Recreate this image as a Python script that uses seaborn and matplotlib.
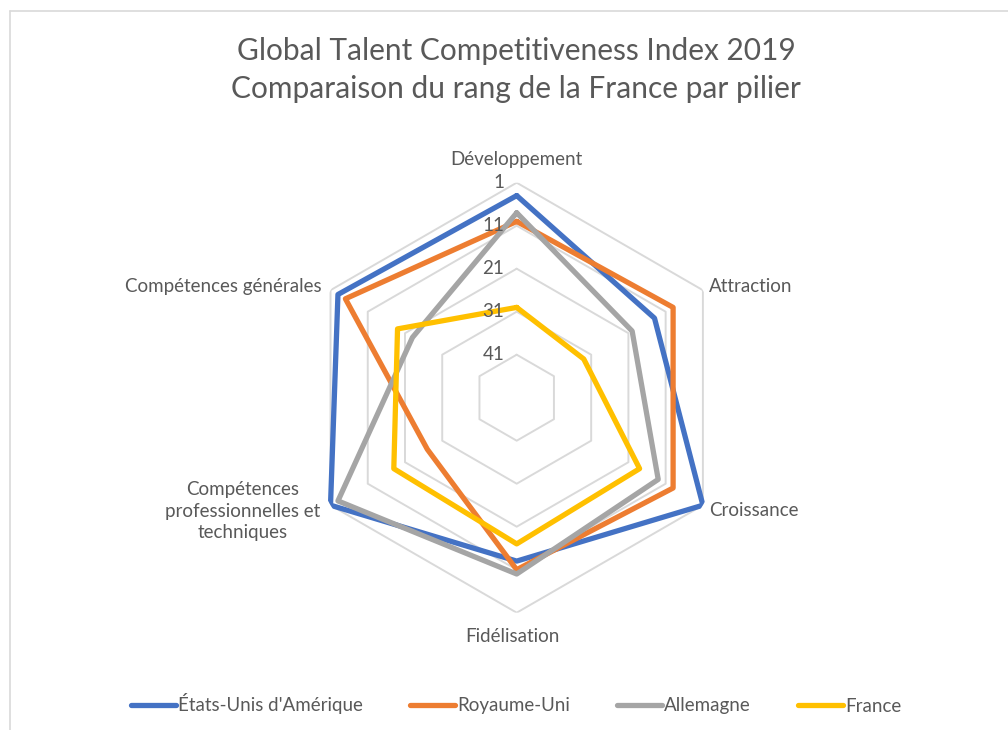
import numpy as np
import pandas as pd
import matplotlib
matplotlib.use("Agg")
import matplotlib.pyplot as plt
import matplotlib.transforms as mtransforms
from matplotlib.lines import Line2D
import seaborn as sns

# ---- data ----
categories = ["Développement", "Attraction", "Croissance", "Fidélisation",
              "Compétences\nprofessionnelles et\ntechniques", "Compétences générales"]
countries = ["États-Unis d'Amérique", "Royaume-Uni", "Allemagne", "France"]
usa = [4, 14, 1, 13, 1, 3]
uk = [10, 9, 9, 11, 27, 5]
germany = [8, 20, 13, 10, 3, 23]
france = [30, 33, 18, 17, 18, 19]
rank_ticks = [1, 11, 21, 31, 41]
rank_min, rank_max = 1, 51

colors = ["#4472C4", "#ED7D31", "#A5A5A5", "#FFC000"]
title = "Global Talent Competitiveness Index 2019\nComparaison du rang de la France par pilier"

sns.set_theme(style="white")
plt.rcParams["font.family"] = ["Lato", "DejaVu Sans"]
txt = "#595959"

W, H = 1008, 730
fig = plt.figure(figsize=(W / 100, H / 100), dpi=100)

cx, cy, R = 516.7, 397.7, 215.0
ax = fig.add_axes([(cx - R) / W, (H - cy - R) / H, 2 * R / W, 2 * R / H], projection="polar")
ax.set_theta_zero_location("N")
ax.set_theta_direction(-1)

n = len(categories)
angles = np.linspace(0, 2 * np.pi, n, endpoint=False)
closed_angles = np.append(angles, 2 * np.pi)

# hexagonal grid
for lvl in rank_ticks:
    ax.plot(closed_angles, [lvl] * (n + 1), color="#D9D9D9", lw=1.4, zorder=1)

series = [usa, uk, germany, france]
rows = []
for name, vals in zip(countries, series):
    v = list(vals) + [vals[0]]
    for a, r in zip(closed_angles, v):
        rows.append({"pays": name, "angle": a, "rang": r})
df = pd.DataFrame(rows)

sns.lineplot(data=df, x="angle", y="rang", hue="pays", hue_order=countries,
             palette=colors, linewidth=3.8, sort=False, estimator=None,
             ax=ax, legend=False, zorder=3)

ax.set_ylim(rank_max, rank_min)
ax.grid(False)
ax.spines["polar"].set_visible(False)
ax.set_xticks([])
ax.set_yticks([])
ax.set_xlabel("")
ax.set_ylabel("")
ax.patch.set_alpha(0)

fs = 13.5
# radial tick labels
off = mtransforms.offset_copy(ax.transData, fig=fig, x=-9, y=0, units="points")
for t in rank_ticks:
    ax.text(0, t, str(t), transform=off, ha="right", va="center",
            fontsize=fs, color=txt)

# category labels (pixel positions)
def ft(x, y, s, **kw):
    fig.text(x / W, 1 - y / H, s, color=txt, fontsize=fs, **kw)

ft(516, 160, categories[0], ha="center", va="center")
ft(709, 286, categories[1], ha="left", va="center")
ft(709, 511, categories[2], ha="left", va="center")
ft(512, 636, categories[3], ha="center", va="center")
ft(243, 511, categories[4], ha="center", va="center", linespacing=1.3)
ft(322, 286, categories[5], ha="right", va="center")

fig.text(516 / W, 1 - 70 / H, title, ha="center", va="center", fontsize=21.5,
         color=txt, linespacing=1.45)

handles = [Line2D([0], [0], color=c, lw=3.8) for c in colors]
fig.legend(handles, countries, loc="center", bbox_to_anchor=(516 / W, 1 - 704 / H),
           ncol=4, frameon=False, fontsize=fs, handlelength=2.4,
           handletextpad=0.12, columnspacing=2.5, labelcolor=txt)

# chart border
fig.add_artist(Line2D([9.5 / W, 1.0], [1 - 10.5 / H, 1 - 10.5 / H], transform=fig.transFigure,
                      color="#D9D9D9", lw=1.2))
fig.add_artist(Line2D([9.5 / W, 9.5 / W], [0, 1 - 10.5 / H], transform=fig.transFigure,
                      color="#D9D9D9", lw=1.2))

fig.savefig("out.png", dpi=100, facecolor="white")
